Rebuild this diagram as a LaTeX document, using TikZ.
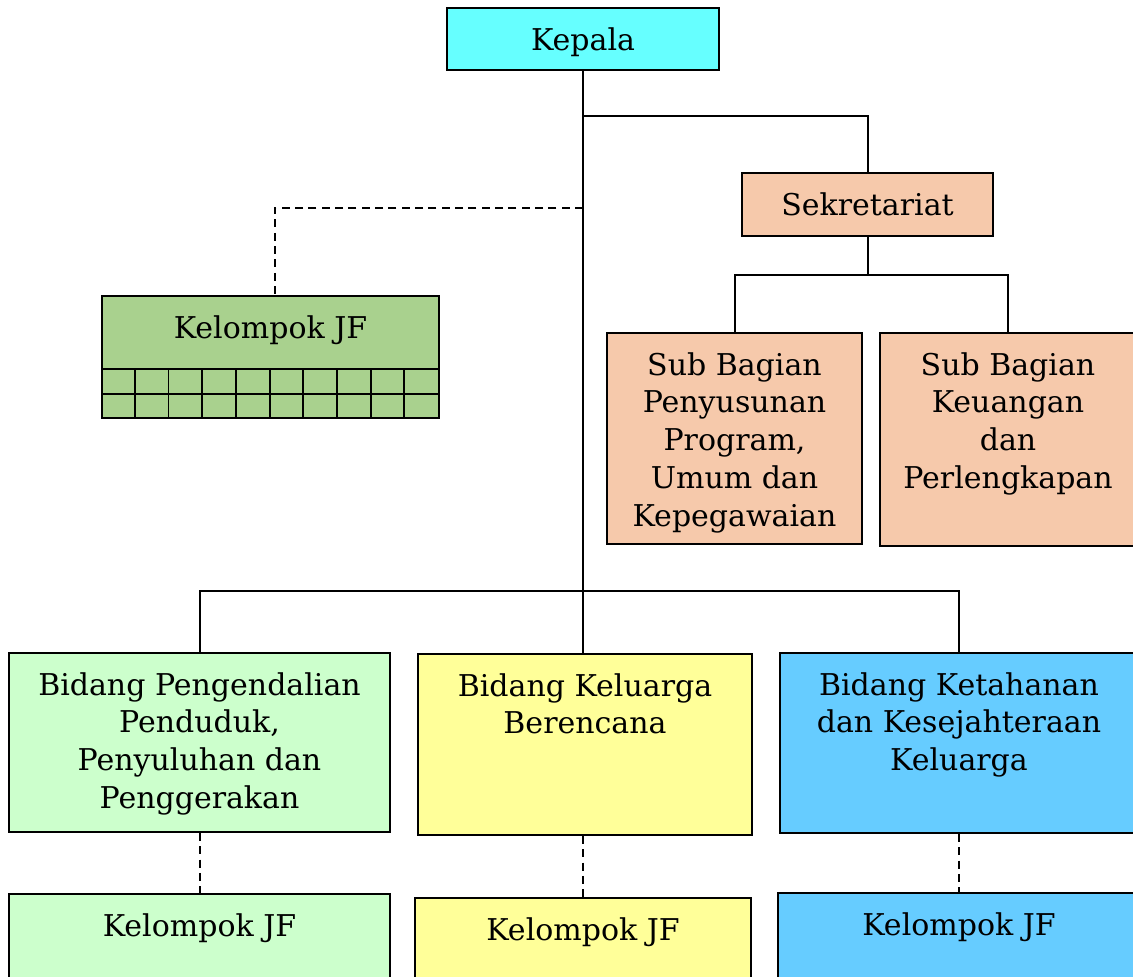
\documentclass[tikz,border=0pt]{standalone}
\usepackage{fontspec}
\setmainfont{DejaVu Serif}
\usetikzlibrary{positioning}

\definecolor{kepalacyan}{HTML}{66FFFF}
\definecolor{sekrpeach}{HTML}{F6C9AB}
\definecolor{jfgreen}{HTML}{A9D18E}
\definecolor{bidgreen}{HTML}{CCFFCC}
\definecolor{bidyellow}{HTML}{FFFF99}
\definecolor{bidblue}{HTML}{66CCFF}

\begin{document}
\begin{tikzpicture}[x=0.75pt,y=-0.75pt,line width=1.4pt,
                    unit/.style={draw, inner sep=0pt},
                    caption/.style={anchor=north, yshift=-14.5pt, inner sep=0pt,
                                    align=center, font=\fontsize{22.5}{28.3}\selectfont},
                    link/.style={line width=1.5pt},
                    jflink/.style={line width=1.5pt, dash pattern=on 6pt off 4pt}]

  \useasboundingbox (0,0) rectangle (1133,977);
  \clip (0,0) rectangle (1133,977);

  % pimpinan dan sekretariat
  \node[unit, fill=kepalacyan, minimum width=204pt, minimum height=46.5pt,
        label={[caption]north:Kepala}] at (583,39) (kepala) {};
  \node[unit, fill=sekrpeach, minimum width=188.25pt, minimum height=47.25pt,
        label={[caption]north:Sekretariat}] at (867.5,204.5) (sekr) {};
  \node[unit, fill=sekrpeach, minimum width=191.25pt, minimum height=158.25pt,
        label={[caption]north:Sub Bagian\\Penyusunan\\Program,\\Umum dan\\Kepegawaian}]
        at (734.5,438.5) (subprog) {};
  \node[unit, fill=sekrpeach, minimum width=192pt, minimum height=159.75pt,
        label={[caption]north:Sub Bagian\\Keuangan\\dan\\Perlengkapan}]
        at (1008,439.5) (subkeu) {};

  % kelompok jabatan fungsional
  \node[unit, fill=jfgreen, minimum width=252.75pt, minimum height=91.5pt,
        label={[caption]north:Kelompok JF}] at (270.5,357) (jf) {};
  \foreach \r in {25,50}
    \draw (jf.south west) ++(0,-\r) -- ++(337,0);
  \foreach \c in {1,...,9}
    \draw (jf.south west) ++(\c*33.7,0) -- ++(0,-50);

  % bidang
  \node[unit, fill=bidgreen, minimum width=285.75pt, minimum height=134.25pt,
        label={[caption]north:Bidang Pengendalian\\Penduduk,\\Penyuluhan dan\\Penggerakan}]
        at (199.5,742.5) (bidpp) {};
  \node[unit, fill=bidyellow, minimum width=250.5pt, minimum height=135.75pt,
        label={[caption]north:Bidang Keluarga\\Berencana}] at (585,744.5) (bidkb) {};
  \node[unit, fill=bidblue, minimum width=268.5pt, minimum height=135pt,
        label={[caption]north:Bidang Ketahanan\\dan Kesejahteraan\\Keluarga}]
        at (959,743) (bidks) {};

  \node[unit, fill=bidgreen, minimum width=285.75pt, minimum height=97.5pt,
        label={[caption]north:Kelompok JF}] at (199.5,959) (jfpp) {};
  \node[unit, fill=bidyellow, minimum width=252pt, minimum height=97.5pt,
        label={[caption]north:Kelompok JF}] at (583,963) (jfkb) {};
  \node[unit, fill=bidblue, minimum width=271.5pt, minimum height=97.5pt,
        label={[caption]north:Kelompok JF}] at (959,958) (jfks) {};

  % garis
  \path (kepala.south) ++(0,45) coordinate (jsekr)
                       ++(0,92) coordinate (jjf);
  \path (sekr.south) ++(0,38) coordinate (jsub);
  \path (kepala.south |- bidkb.north) ++(0,-62) coordinate (jbid);

  \draw[link] (kepala.south) -- (kepala.south |- bidkb.north);
  \draw[link] (jsekr) -| (sekr.north);
  \draw[link] (sekr.south) -- (jsub);
  \draw[link] (subprog.north) |- (jsub) -| (subkeu.north);
  \draw[link] (bidpp.north) |- (jbid) -| (bidks.north);
  \draw[jflink] (jjf) -| ([xshift=3pt]jf.north);
  \draw[jflink] (bidpp.south) -- (jfpp.north);
  \draw[jflink] (jfkb.north |- bidkb.south) -- (jfkb.north);
  \draw[jflink] (bidks.south) -- (jfks.north);

\end{tikzpicture}
\end{document}
